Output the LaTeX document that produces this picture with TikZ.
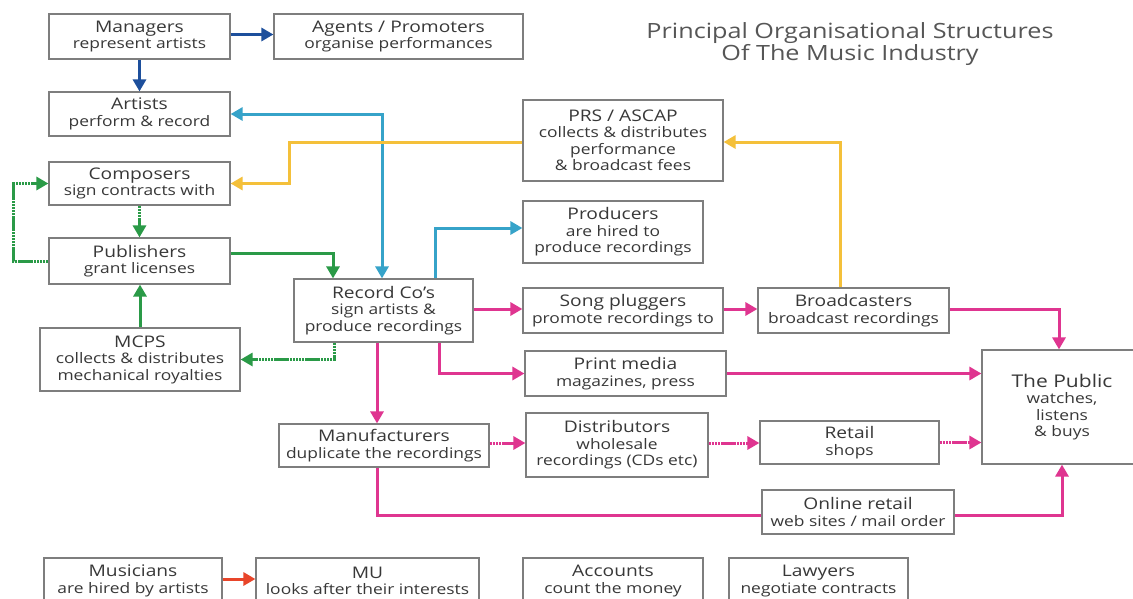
\documentclass[tikz,border=0pt]{standalone}
\usepackage{fontspec}
\setmainfont{Open Sans}[FakeStretch=1.2]
\usetikzlibrary{arrows.meta,calc}
\definecolor{blu}{HTML}{1D4F9C}
\definecolor{cya}{HTML}{36A3C9}
\definecolor{yel}{HTML}{F4C03A}
\definecolor{grn}{HTML}{2A9A47}
\definecolor{pnk}{HTML}{DF3590}
\definecolor{rdd}{HTML}{E8452A}
\definecolor{boxgray}{HTML}{7E7E7E}
\definecolor{txt}{HTML}{383838}
\newcommand\hd[1]{{\fontsize{16}{16.5}\selectfont #1}}
\tikzset{
  box/.style={draw=boxgray, line width=1.2pt, fill=white, align=center, inner sep=0pt,
    text=txt, font=\fontsize{14.5}{16.5}\selectfont},
  con/.style={line width=3pt},
  arr/.style={con, -{Triangle[length=12pt,width=13pt]}},
  darr/.style={con, {Triangle[length=12pt,width=13pt]}-{Triangle[length=12pt,width=13pt]}},
  dots/.style={dash pattern=on 2.5pt off 0.6pt},
}
\begin{document}
\begin{tikzpicture}[x=1pt,y=-1pt]
\useasboundingbox (0,0) rectangle (1133,598);
\clip (0,0) rectangle (1133,598);
\fill[white] (0,0) rectangle (1133,598);

\node[text=txt!85, align=center, font=\fontsize{21}{22}\selectfont] (title) at (850,44)
  {Principal Organisational Structures\\Of The Music Industry};

\node[box, minimum width=181pt, minimum height=45pt] (mgr) at (139.5,36.5) {\hd{Managers}\\represent artists};
\node[box, minimum width=249pt, minimum height=45pt] (agt) at (398.5,36.5) {\hd{Agents / Promoters}\\organise performances};
\node[box, minimum width=181pt, minimum height=44pt] (art) at (139.5,114) {\hd{Artists}\\perform \& record};
\node[box, minimum width=181pt, minimum height=43pt] (cmp) at (139.5,183.5) {\hd{Composers}\\sign contracts with};
\node[box, minimum width=181pt, minimum height=46pt] (pub) at (139.5,261) {\hd{Publishers}\\grant licenses};
\node[box, minimum width=200pt, minimum height=63pt] (mcps) at (140,359.5) {\hd{MCPS}\\collects \& distributes\\mechanical royalties};
\node[box, minimum width=179pt, minimum height=63pt] (rec) at (383.5,310.5) {\hd{Record Co's}\\sign artists \&\\produce recordings};
\node[box, minimum width=210pt, minimum height=43pt] (man) at (384,445.5) {\hd{Manufacturers}\\duplicate the recordings};
\node[box, minimum width=200pt, minimum height=81pt] (prs) at (623,140.5) {\hd{PRS / ASCAP}\\collects \& distributes\\performance\\\& broadcast fees};
\node[box, minimum width=180pt, minimum height=62pt] (prod) at (613,232) {\hd{Producers}\\are hired to\\produce recordings};
\node[box, minimum width=200pt, minimum height=45pt] (song) at (623,310.5) {\hd{Song pluggers}\\promote recordings to};
\node[box, minimum width=191pt, minimum height=45pt] (brd) at (853.5,310.5) {\hd{Broadcasters}\\broadcast recordings};
\node[box, minimum width=201pt, minimum height=45pt] (prt) at (625.5,373.5) {\hd{Print media}\\magazines, press};
\node[box, minimum width=182pt, minimum height=64pt] (dist) at (617,445) {\hd{Distributors}\\wholesale\\recordings (CDs etc)};
\node[box, minimum width=179pt, minimum height=43pt] (ret) at (849.5,442.5) {\hd{Retail}\\shops};
\node[box, minimum width=192pt, minimum height=44pt] (onl) at (858,512) {\hd{Online retail}\\web sites / mail order};
\node[box, minimum width=160pt, minimum height=114pt] (pubx) at (1062,407) {{\fontsize{17.5}{18}\selectfont The Public}\\watches,\\listens\\\& buys};
\node[box, minimum width=178pt, minimum height=46pt] (mus) at (133,581) {\hd{Musicians}\\are hired by artists};
\node[box, minimum width=223pt, minimum height=46pt] (mu) at (367.5,581) {\hd{MU}\\looks after their interests};
\node[box, minimum width=180pt, minimum height=46pt] (acc) at (613,581) {\hd{Accounts}\\count the money};
\node[box, minimum width=179pt, minimum height=46pt] (law) at (818.5,581) {\hd{Lawyers}\\negotiate contracts};

% blue
\draw[arr, blu] ([yshift=2pt]mgr.east) -- ([yshift=2pt]agt.west);
\draw[arr, blu] (mgr.south) -- (art.north);
% cyan
\draw[darr, cya] (art.east) -| ([xshift=-1.5pt]rec.north);
\draw[arr, cya] ([xshift=51.5pt]rec.north) |- ([yshift=4pt]prod.west);
% yellow
\draw[arr, yel] ([yshift=-1.5pt]prs.west) -- ++(-233,0) |- (cmp.east);
\draw[arr, yel] ([xshift=-13.5pt]brd.north) |- ([yshift=-1.5pt]prs.east);
% green
\draw[arr, grn, dots] (cmp.south) -- (pub.north);
\draw[arr, grn, dots] (pub.west) -- ++(-35,0) |- (cmp.west);
\draw[arr, grn] ([yshift=8pt]pub.east) -| ([xshift=-50.5pt]rec.north);
\draw[arr, grn] (mcps.north) -- (mcps.north |- pub.south);
\draw[arr, grn, dots] ([xshift=-49.5pt]rec.south) |- (mcps.east);
% pink
\draw[arr, pnk] ([xshift=-6.5pt]rec.south) -- ([xshift=-7pt]man.north);
\draw[arr, pnk] ([yshift=1.5pt]rec.east) -- ([yshift=1.5pt]song.west);
\draw[arr, pnk] ([xshift=55.5pt]rec.south) |- (prt.west);
\draw[arr, pnk] ([yshift=1.5pt]song.east) -- ([yshift=1.5pt]brd.west);
\draw[arr, pnk] ([yshift=1.5pt]brd.east) -| ([xshift=-3pt]pubx.north);
\draw[arr, pnk] (prt.east) -- (prt.east -| pubx.west);
\draw[arr, pnk, dots] ([yshift=2.5pt]man.east) -- ([yshift=2.5pt]man.east -| dist.west);
\draw[arr, pnk, dots] ([yshift=2pt]dist.east) -- ([yshift=2pt]dist.east -| ret.west);
\draw[arr, pnk, dots] (ret.east) -- (ret.east -| pubx.west);
\draw[con, pnk] ([xshift=-7pt]man.south) |- ([yshift=-3pt]onl.west);
\draw[arr, pnk] ([yshift=-3pt]onl.east) -| (pubx.south);
% red
\draw[arr, rdd] ([yshift=2pt]mus.east) -- ([yshift=2pt]mu.west);
\end{tikzpicture}
\end{document}
